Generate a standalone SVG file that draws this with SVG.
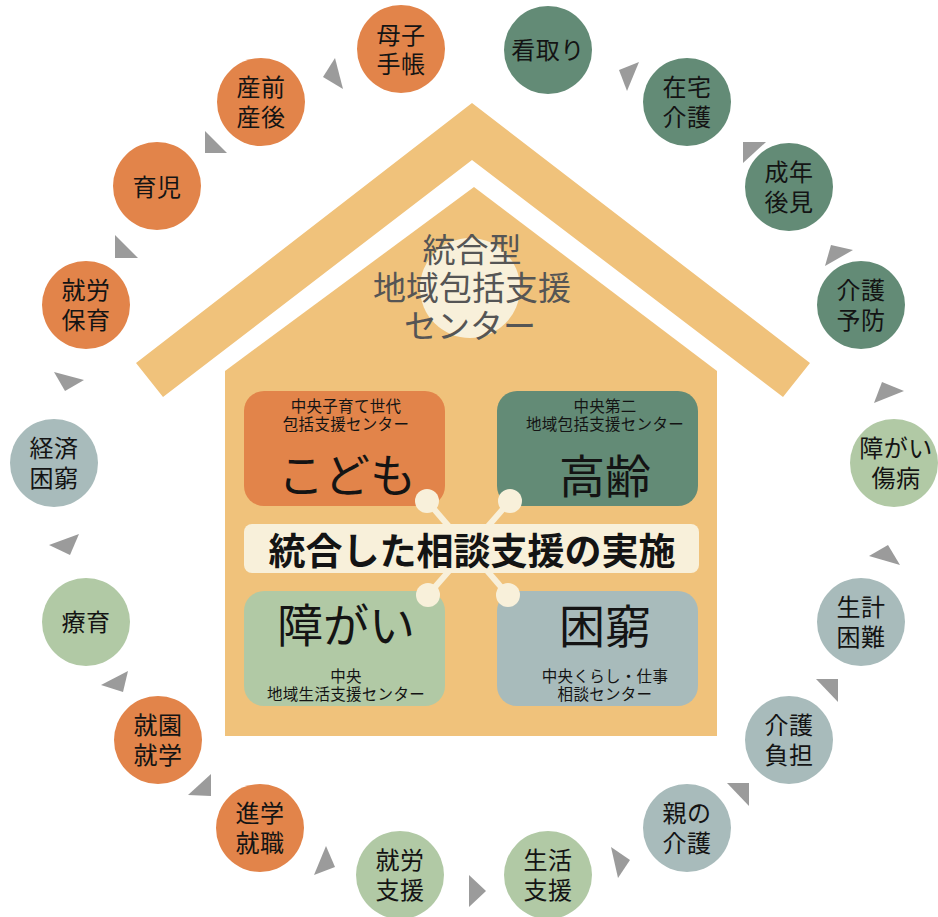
<svg xmlns="http://www.w3.org/2000/svg" width="938" height="917" viewBox="0 0 938 917">
<style>
.t{font-family:"Noto Sans CJK JP","Noto Sans CJK SC",sans-serif;fill:#141414;text-anchor:middle}
.c{font-size:24px;letter-spacing:0.5px}
.sm{font-size:15.5px;letter-spacing:0.3px}
.big{font-size:46px}
.ttl{font-size:33px;fill:#555555}
.ban{font-size:37px;font-weight:bold}
.or{fill:#E2844A}
.dg{fill:#638B76}
.lg{fill:#B1C9A5}
.gb{fill:#A8BBBB}
.arr{fill:#9B9B9B}
.house{fill:#F0C27B}
.cream{fill:#F8F0DA}
</style>
<rect width="938" height="917" fill="#ffffff"/>

<g id="house">
<polygon class="house" points="136,363 472,103 810,363 783,397 472,160 163,397"/>
<polygon class="house" points="225,371 474,187 717,371 717,736 225,736"/>
<circle class="cream" cx="470" cy="288" r="50"/>
<text class="t ttl" x="472" y="262">統合型</text>
<text class="t ttl" x="472" y="300">地域包括支援</text>
<text class="t ttl" x="470" y="338">センター</text>
</g>

<g id="center-links" stroke="#F8F0DA" stroke-width="6">
<line x1="427" y1="501" x2="508" y2="595"/>
<line x1="510" y1="501" x2="428" y2="595"/>
</g>

<g id="box-kodomo">
<rect class="or" x="244" y="391" width="201" height="115" rx="20"/>
<text class="t sm" x="346" y="412">中央子育て世代</text>
<text class="t sm" x="346" y="430">包括支援センター</text>
<text class="t big" x="347" y="492">こども</text>
</g>
<g id="box-koureri">
<rect class="dg" x="497" y="391" width="201" height="115" rx="20"/>
<text class="t sm" x="605" y="412">中央第二</text>
<text class="t sm" x="605" y="430">地域包括支援センター</text>
<text class="t big" x="605" y="493">高齢</text>
</g>
<g id="box-shougai">
<rect class="lg" x="244" y="591" width="201" height="115" rx="20"/>
<text class="t big" x="346" y="642">障がい</text>
<text class="t sm" x="346" y="682">中央</text>
<text class="t sm" x="346" y="700">地域生活支援センター</text>
</g>
<g id="box-konkyu">
<rect class="gb" x="497" y="591" width="201" height="115" rx="20"/>
<text class="t big" x="605" y="643">困窮</text>
<text class="t sm" x="605" y="682">中央くらし・仕事</text>
<text class="t sm" x="605" y="700">相談センター</text>
</g>

<g id="center-dots">
<circle class="cream" cx="427" cy="501" r="12"/>
<circle class="cream" cx="510" cy="501" r="12"/>
<circle class="cream" cx="428" cy="595" r="12"/>
<circle class="cream" cx="508" cy="595" r="12"/>
</g>

<g id="banner">
<rect class="cream" x="244" y="524" width="455" height="49" rx="8"/>
<text class="t ban" x="472" y="565">統合した相談支援の実施</text>
</g>

<g id="connectors">
<polygon class="arr" points="115,235 115,258 138,258"/>
<polygon class="arr" points="205,131 205,153 227,153"/>
<polygon class="arr" points="335,58 323,77 343,89"/>
<polygon class="arr" points="619,70 639,62 627,91"/>
<polygon class="arr" points="743,142 766,142 743,163"/>
<polygon class="arr" points="831,245 853,250 825,266"/>
<polygon class="arr" points="882,382 904,391 874,403"/>
<polygon class="arr" points="888,545 900,565 869,556"/>
<polygon class="arr" points="816,679 838,679 838,702"/>
<polygon class="arr" points="727,783 749,783 749,806"/>
<polygon class="arr" points="611,847 630,860 618,878"/>
<polygon class="arr" points="469,875 486,891 469,907"/>
<polygon class="arr" points="314,875 326,846 335,867"/>
<polygon class="arr" points="188,795 211,774 211,796"/>
<polygon class="arr" points="101,685 128,671 123,692"/>
<polygon class="arr" points="49,545 79,534 70,555"/>
<polygon class="arr" points="54,372 84,380 65,391"/>
</g>

<g id="n-boshi"><circle class="or" cx="401" cy="49" r="44"/><text class="t c" x="401" y="44">母子</text><text class="t c" x="401" y="73">手帳</text></g>
<g id="n-mitori"><circle class="dg" cx="548" cy="50" r="44"/><text class="t c" x="548" y="59">看取り</text></g>
<g id="n-zaitaku"><circle class="dg" cx="687" cy="102" r="44"/><text class="t c" x="687" y="96">在宅</text><text class="t c" x="687" y="126">介護</text></g>
<g id="n-seinen"><circle class="dg" cx="789" cy="187" r="44"/><text class="t c" x="789" y="181">成年</text><text class="t c" x="789" y="211">後見</text></g>
<g id="n-kaigoyobou"><circle class="dg" cx="861" cy="305" r="44"/><text class="t c" x="861" y="299">介護</text><text class="t c" x="861" y="329">予防</text></g>
<g id="n-shougai"><circle class="lg" cx="894" cy="463" r="44"/><text class="t c" x="896" y="457">障がい</text><text class="t c" x="896" y="487">傷病</text></g>
<g id="n-seikei"><circle class="gb" cx="861" cy="622" r="44"/><text class="t c" x="861" y="616">生計</text><text class="t c" x="861" y="646">困難</text></g>
<g id="n-kaigofutan"><circle class="gb" cx="789" cy="740" r="44"/><text class="t c" x="789" y="734">介護</text><text class="t c" x="789" y="764">負担</text></g>
<g id="n-oyanokaigo"><circle class="gb" cx="687" cy="828" r="44"/><text class="t c" x="687" y="822">親の</text><text class="t c" x="687" y="852">介護</text></g>
<g id="n-seikatsu"><circle class="lg" cx="548" cy="875" r="44"/><text class="t c" x="548" y="869">生活</text><text class="t c" x="548" y="899">支援</text></g>
<g id="n-shuurou"><circle class="lg" cx="400" cy="875" r="44"/><text class="t c" x="400" y="869">就労</text><text class="t c" x="400" y="899">支援</text></g>
<g id="n-shingaku"><circle class="or" cx="260" cy="828" r="44"/><text class="t c" x="260" y="822">進学</text><text class="t c" x="260" y="852">就職</text></g>
<g id="n-shuuen"><circle class="or" cx="158" cy="740" r="44"/><text class="t c" x="158" y="734">就園</text><text class="t c" x="158" y="764">就学</text></g>
<g id="n-ryouiku"><circle class="lg" cx="86" cy="622" r="44"/><text class="t c" x="86" y="631">療育</text></g>
<g id="n-keizai"><circle class="gb" cx="54" cy="463" r="44"/><text class="t c" x="54" y="457">経済</text><text class="t c" x="54" y="487">困窮</text></g>
<g id="n-shuurouhoiku"><circle class="or" cx="86" cy="305" r="44"/><text class="t c" x="86" y="299">就労</text><text class="t c" x="86" y="329">保育</text></g>
<g id="n-ikuji"><circle class="or" cx="157" cy="186" r="44"/><text class="t c" x="157" y="196">育児</text></g>
<g id="n-sanzen"><circle class="or" cx="261" cy="102" r="44"/><text class="t c" x="261" y="96">産前</text><text class="t c" x="261" y="126">産後</text></g>
</svg>
